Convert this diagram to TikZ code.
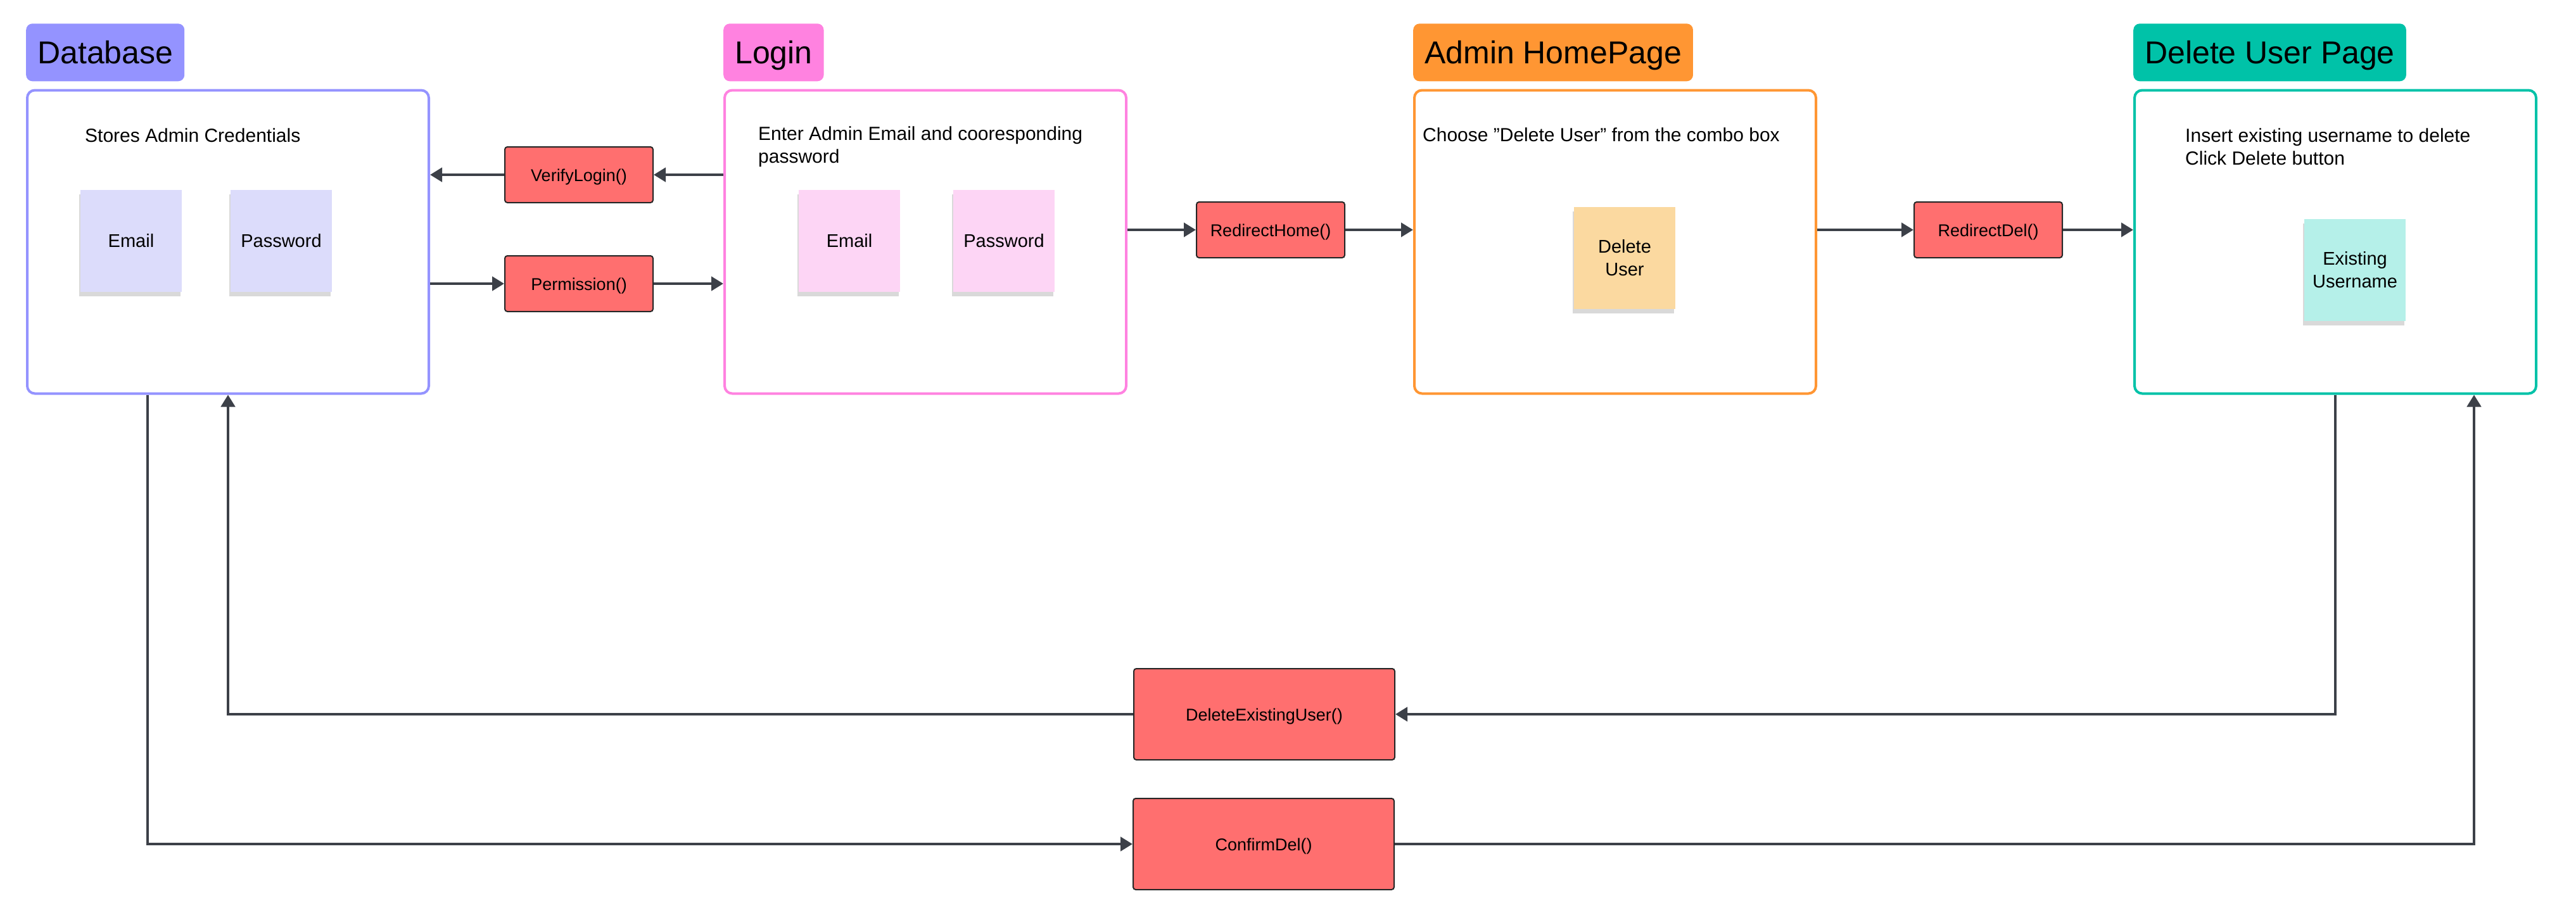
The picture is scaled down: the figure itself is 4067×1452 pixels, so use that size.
\documentclass[tikz,border=0pt]{standalone}
\usepackage{fontspec}
\setmainfont{Liberation Sans}
\usetikzlibrary{positioning,arrows.meta,shadows}
\definecolor{dbcol}{RGB}{148,147,255}
\definecolor{dbsticky}{RGB}{220,220,251}
\definecolor{logincol}{RGB}{255,130,224}
\definecolor{loginsticky}{RGB}{253,213,245}
\definecolor{admincol}{RGB}{255,150,51}
\definecolor{adminsticky}{RGB}{251,217,160}
\definecolor{delcol}{RGB}{0,194,168}
\definecolor{delsticky}{RGB}{181,240,233}
\definecolor{btncol}{RGB}{255,111,111}
\definecolor{linecol}{RGB}{60,64,72}
\tikzstyle{panel} = [draw, line width=4pt, rounded corners=12pt, minimum width=634pt, minimum height=479pt, inner sep=0pt]
\tikzstyle{heading} = [rounded corners=10pt, minimum height=91pt, inner xsep=18pt, inner ysep=0pt, text height=36pt, text depth=0pt, font=\fontsize{50}{60}\selectfont]
\tikzstyle{note} = [anchor=west, align=left, inner sep=0pt, font=\fontsize{30}{36}\selectfont]
\tikzstyle{sticky} = [minimum width=160pt, minimum height=161pt, inner sep=0pt, align=center, font=\fontsize{29}{36}\selectfont, drop shadow={shadow xshift=-2pt, shadow yshift=-7pt, opacity=0.3}]
\tikzstyle{func} = [draw=black!85, line width=2pt, fill=btncol, rounded corners=4pt, minimum width=234pt, minimum height=88pt, text height=20pt, text depth=0pt, font=\fontsize{27}{32}\selectfont]
\tikzstyle{arrow} = [line width=4.5pt, draw=linecol, -{Triangle[width=22pt,length=19pt]}]

\begin{document}
\begin{tikzpicture}[x=1pt,y=-1pt]
\useasboundingbox (0,0) rectangle (4067,1452);

\node[panel, draw=dbcol] (db) at (360,382) {};
\node[panel, draw=logincol] (login) at (1461,382) {};
\node[panel, draw=admincol] (admin) at (2550,382) {};
\node[panel, draw=delcol] (del) at (3687,382) {};

\node[heading, fill=dbcol, above right=12pt and 0pt of db.north west] (dbhead) {Database};
\node[heading, fill=logincol, above right=12pt and 0pt of login.north west] (loginhead) {Login};
\node[heading, fill=admincol, above right=12pt and 0pt of admin.north west] (adminhead) {Admin HomePage};
\node[heading, fill=delcol, above right=12pt and 0pt of del.north west] (delhead) {Delete User Page};

\node[note] (dbtext) at (134,214) {Stores Admin Credentials};
\node[note] (logintext) at (1197,232) {Enter Admin Email and cooresponding\\password};
\node[note] (admintext) at (2246,213) {Choose "Delete User" from the combo box};
\node[note] (deltext) at (3450,232) {Insert existing username to delete\\Click Delete button};

\foreach \n/\x/\t in {dbemail/207/Email, dbpass/444/Password}
{
\node[sticky, fill=dbsticky] (\n) at (\x,380) {\t};
}
\foreach \n/\x/\t in {loginemail/1341/Email, loginpass/1585/Password}
{
\node[sticky, fill=loginsticky] (\n) at (\x,380) {\t};
}
\node[sticky, fill=adminsticky] (adminnote) at (2565,407) {Delete\\User};
\node[sticky, fill=delsticky] (delnote) at (3718,426) {Existing\\Username};

\node[func] (verify) at (914,276) {VerifyLogin()};
\node[func] (perm) at (914,448) {Permission()};
\node[func] (redirhome) at (2006,363) {RedirectHome()};
\node[func] (redirdel) at (3139,363) {RedirectDel()};
\node[func, minimum width=412pt, minimum height=144pt] (delexist) at (1996,1128) {DeleteExistingUser()};
\node[func, minimum width=412pt, minimum height=144pt] (confirm) at (1995,1333) {ConfirmDel()};

\coordinate[right=192pt of db.south west] (dbtap);
\coordinate[left=100pt of del.south east] (delin);

\draw[arrow] (login.west |- verify.east) -- (verify.east);
\draw[arrow] (verify.west) -- (db.east |- verify.west);
\draw[arrow] (db.east |- perm.west) -- (perm.west);
\draw[arrow] (perm.east) -- (login.west |- perm.east);
\draw[arrow] (login.east |- redirhome.west) -- (redirhome.west);
\draw[arrow] (redirhome.east) -- (admin.west |- redirhome.east);
\draw[arrow] (admin.east |- redirdel.west) -- (redirdel.west);
\draw[arrow] (redirdel.east) -- (del.west |- redirdel.east);
\draw[arrow] (del.south) |- (delexist.east);
\draw[arrow] (delexist.west) -| (db.south);
\draw[arrow] (dbtap) |- (confirm.west);
\draw[arrow] (confirm.east) -| (delin);
\end{tikzpicture}
\end{document}
